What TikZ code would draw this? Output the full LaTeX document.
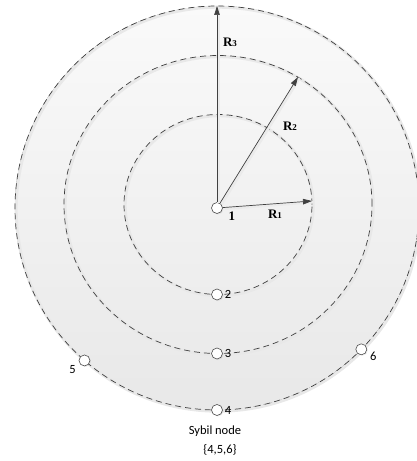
\documentclass[tikz,border=0pt]{standalone}
\usepackage{fontspec}
\setmainfont{Carlito}
\newfontfamily\timesf{Liberation Serif}
\usetikzlibrary{arrows.meta,shadows,calc}
\begin{document}
\begin{tikzpicture}[x=1pt,y=1pt,
  ring/.style={draw=black!75, dash pattern=on 6pt off 4pt, line width=0.7pt,
    preaction={draw=black!9, solid, line width=3pt, transform canvas={shift={(1.2pt,-1.2pt)}}}},
  sensor/.style={circle, draw=black!70, fill=white, line width=0.6pt, minimum size=11pt, inner sep=0pt,
    drop shadow={shadow xshift=1pt, shadow yshift=-1pt, opacity=0.15}},
  vec/.style={draw=black!75, line width=0.7pt, -{Triangle[length=9pt,width=5.5pt]},
    preaction={draw=black!8, line width=2.5pt, -, transform canvas={shift={(1.5pt,-1.2pt)}}}},
  num/.style={font=\fontsize{12.5}{14}\selectfont, inner sep=0pt},
  rlab/.style={font=\fontsize{13}{15}\timesf\bfseries, inner sep=0pt}
]
\useasboundingbox (-217,-253) rectangle (200,208);
\fill[top color=black!2, bottom color=black!9] (0,0) circle (202);
\draw[ring] (0,0) circle (202);
\draw[ring] (1,3.5) ellipse [x radius=154, y radius=149];
\draw[ring] (1,3.5) ellipse [x radius=94, y radius=90];

\coordinate (t1) at (95,7);
\coordinate (t2) at (81,131);
\coordinate (t3) at (0,202);

\node[sensor] (n1) at (0,0) {};
\node[sensor] (n2) at (0,-86.5) {};
\node[sensor] (n3) at (0,-145.5) {};
\node[sensor] (n4) at (270:202) {};
\node[sensor] (n5) at (229:202) {};
\node[sensor] (n6) at (315.6:202) {};

\draw[vec] (n1) -- (t1);
\draw[vec] (n1) -- (t2);
\draw[vec] (n1) -- (t3);

\node[rlab] (l1) at ($(n1)+(15,-8)$) {1};
\node[num, anchor=west] (l2) at ($(n2.east)+(2,0)$) {2};
\node[num, anchor=west] (l3) at ($(n3.east)+(2,0)$) {3};
\node[num, anchor=west] (l4) at ($(n4.east)+(2,0)$) {4};
\node[num] (l5) at ($(n5)+(-12,-9)$) {5};
\node[num] (l6) at ($(n6)+(12,-7)$) {6};

\node[rlab] (r1) at (58,-6) {R{\fontsize{9}{10}\selectfont 1}};
\node[rlab] (r2) at (73,82) {R{\fontsize{9}{10}\selectfont 2}};
\node[rlab] (r3) at (13,166) {R{\fontsize{9}{10}\selectfont 3}};

\node[num] (s1) at (-2,-223) {Sybil node};
\node[num] (s2) at (3,-242) {\{4,5,6\}};
\end{tikzpicture}
\end{document}
